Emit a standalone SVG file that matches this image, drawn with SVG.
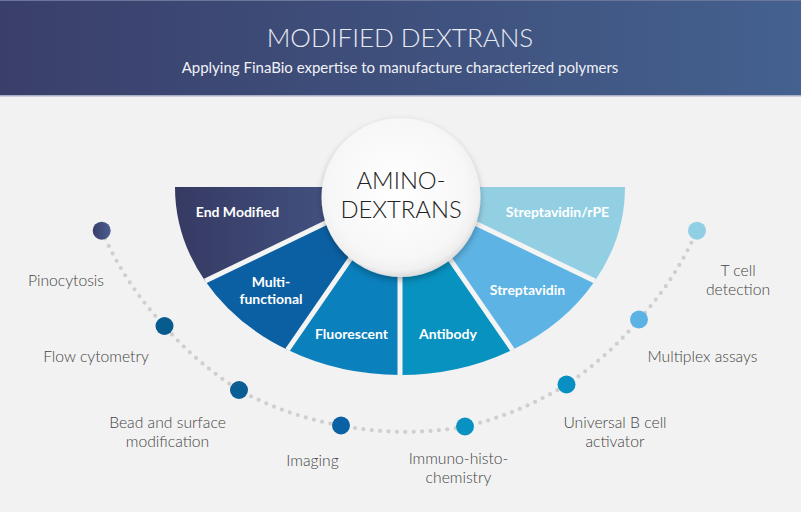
<svg xmlns="http://www.w3.org/2000/svg" width="801" height="512" viewBox="0 0 801 512">
  <defs>
    <linearGradient id="hdr" x1="0" y1="0" x2="801" y2="0" gradientUnits="userSpaceOnUse">
      <stop offset="0" stop-color="#3a3f6a"/>
      <stop offset="1" stop-color="#44618f"/>
    </linearGradient>
    <linearGradient id="navy" x1="175" y1="0" x2="400" y2="0" gradientUnits="userSpaceOnUse">
      <stop offset="0" stop-color="#363a63"/>
      <stop offset="1" stop-color="#475b8b"/>
    </linearGradient>
    <linearGradient id="navyDot" x1="0" y1="0" x2="1" y2="0">
      <stop offset="0" stop-color="#383d68"/>
      <stop offset="1" stop-color="#4b5f90"/>
    </linearGradient>
    <radialGradient id="disc" cx="0.48" cy="0.45" r="0.55">
      <stop offset="0" stop-color="#ffffff"/>
      <stop offset="0.8" stop-color="#f7f7f7"/>
      <stop offset="0.93" stop-color="#f0f0f0"/>
      <stop offset="1" stop-color="#dcdcdc"/>
    </radialGradient>
    <filter id="shadow" x="-20%" y="-20%" width="140%" height="150%">
      <feDropShadow dx="0" dy="3" stdDeviation="3" flood-color="#000" flood-opacity="0.28"/>
    </filter>
  </defs>
  <style>
    .seg-label { font-family: Lato, "Liberation Sans", sans-serif; font-weight: 700; font-size: 14px; fill: #ffffff; text-anchor: middle; }
    .app-label { font-family: Lato, "Liberation Sans", sans-serif; font-weight: 300; font-size: 15.7px; fill: #444444; text-anchor: middle; }
    .sep { stroke: #f4f4f4; stroke-width: 5; }
    .link { fill: none; stroke: #cfcfcf; stroke-width: 4.2; stroke-linecap: round; stroke-dasharray: 0 8.4; }
  </style>

  <rect x="0" y="0" width="801" height="512" fill="#f2f2f2"/>

  <g id="header">
    <rect x="0" y="0" width="801" height="95" fill="url(#hdr)"/>
    <rect x="0" y="0" width="801" height="1" fill="#6b7499"/>
    <rect x="0" y="95" width="801" height="1.5" fill="#a7aec6"/>
    <text x="400" y="47" text-anchor="middle" font-family="Lato, 'Liberation Sans', sans-serif" font-weight="300" font-size="26" fill="#e8eaf2">MODIFIED DEXTRANS</text>
    <text x="400" y="73" text-anchor="middle" font-family="Lato, 'Liberation Sans', sans-serif" font-weight="400" font-size="15" fill="#f0f1f6">Applying FinaBio expertise to manufacture characterized polymers</text>
  </g>

  <g id="connectors">
    <path class="link" d="M101.7,230.7 A330,330 0 0 0 164.5,326 A330,330 0 0 0 239,390 A330,330 0 0 0 341,425.5 A330,330 0 0 0 465,426.5 A330,330 0 0 0 566.5,384.5 A330,330 0 0 0 639,319.5 A330,330 0 0 0 697,230.7"/>
  </g>

  <g id="segments">
    <g id="seg-end-modified">
      <path d="M400,187 L175,187 A225,188 0 0 0 205.14,281 Z" fill="url(#navy)"/>
      <text class="seg-label" x="237.5" y="216.5">End Modified</text>
    </g>
    <g id="seg-multifunctional">
      <path d="M400,187 L205.14,281 A225,188 0 0 0 287.5,349.81 Z" fill="#0b60a3"/>
      <text class="seg-label" x="271" y="286.5">Multi-</text>
      <text class="seg-label" x="271" y="303.5">functional</text>
    </g>
    <g id="seg-fluorescent">
      <path d="M400,187 L287.5,349.81 A225,188 0 0 0 400,375 Z" fill="#0a80bc"/>
      <text class="seg-label" x="351.5" y="339">Fluorescent</text>
    </g>
    <g id="seg-antibody">
      <path d="M400,187 L400,375 A225,188 0 0 0 512.5,349.81 Z" fill="#0892c0"/>
      <text class="seg-label" x="448" y="339">Antibody</text>
    </g>
    <g id="seg-streptavidin">
      <path d="M400,187 L512.5,349.81 A225,188 0 0 0 594.86,281 Z" fill="#5db3e3"/>
      <text class="seg-label" x="527.5" y="295">Streptavidin</text>
    </g>
    <g id="seg-streptavidin-rpe">
      <path d="M400,187 L594.86,281 A225,188 0 0 0 625,187 Z" fill="#93cfe3"/>
      <text class="seg-label" x="557.5" y="216.5">Streptavidin/rPE</text>
    </g>
    <g id="separators">
      <line class="sep" x1="400" y1="187" x2="205.14" y2="281"/>
      <line class="sep" x1="400" y1="187" x2="287.5" y2="349.81"/>
      <line class="sep" x1="400" y1="187" x2="400" y2="375"/>
      <line class="sep" x1="400" y1="187" x2="512.5" y2="349.81"/>
      <line class="sep" x1="400" y1="187" x2="594.86" y2="281"/>
    </g>
  </g>

  <g id="center-aminodextrans">
    <circle cx="401" cy="197.5" r="79.5" fill="url(#disc)" filter="url(#shadow)"/>
    <text x="401" y="189" text-anchor="middle" font-family="Lato, 'Liberation Sans', sans-serif" font-weight="300" font-size="23.8" fill="#222222">AMINO-</text>
    <text x="401" y="217.5" text-anchor="middle" font-family="Lato, 'Liberation Sans', sans-serif" font-weight="300" font-size="23.8" fill="#222222">DEXTRANS</text>
  </g>

  <g id="app-pinocytosis">
    <circle cx="101.7" cy="230.7" r="9" fill="url(#navyDot)"/>
    <text class="app-label" x="66" y="285.5">Pinocytosis</text>
  </g>
  <g id="app-flow-cytometry">
    <circle cx="164.5" cy="326" r="9" fill="#085b8e"/>
    <text class="app-label" x="96" y="361.5">Flow cytometry</text>
  </g>
  <g id="app-bead-surface">
    <circle cx="239" cy="390" r="9" fill="#0a5e94"/>
    <text class="app-label" x="167.5" y="428">Bead and surface</text>
    <text class="app-label" x="167.5" y="447">modification</text>
  </g>
  <g id="app-imaging">
    <circle cx="341" cy="425.5" r="9" fill="#0a62a4"/>
    <text class="app-label" x="312.5" y="465.5">Imaging</text>
  </g>
  <g id="app-immunohistochemistry">
    <circle cx="465" cy="426.5" r="9" fill="#0892c2"/>
    <text class="app-label" x="458.5" y="464">Immuno-histo-</text>
    <text class="app-label" x="458.5" y="483">chemistry</text>
  </g>
  <g id="app-universal-b-cell">
    <circle cx="566.5" cy="384.5" r="9" fill="#0890c2"/>
    <text class="app-label" x="615" y="427.5">Universal B cell</text>
    <text class="app-label" x="615" y="446.5">activator</text>
  </g>
  <g id="app-multiplex">
    <circle cx="639" cy="319.5" r="9" fill="#5cb3e3"/>
    <text class="app-label" x="702.5" y="361.5">Multiplex assays</text>
  </g>
  <g id="app-t-cell">
    <circle cx="697" cy="230.7" r="9" fill="#90cfe4"/>
    <text class="app-label" x="738" y="276">T cell</text>
    <text class="app-label" x="738" y="295">detection</text>
  </g>
</svg>
